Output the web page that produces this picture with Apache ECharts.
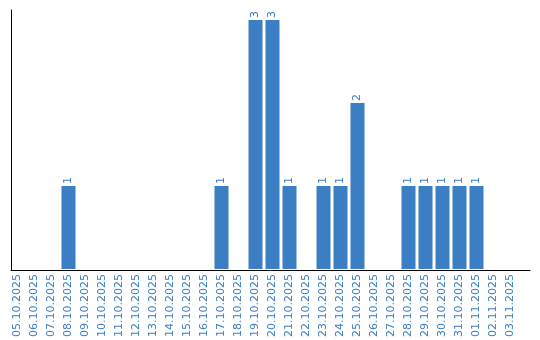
<!DOCTYPE html>
<html><head><meta charset="utf-8">
<script src="https://cdn.jsdelivr.net/npm/echarts@6/dist/echarts.min.js"></script>
<style>html,body{margin:0;padding:0;background:#fff}#c{width:540px;height:340px}</style>
</head><body><div id="c"></div>
<script>
const categories = ["05.10.2025","06.10.2025","07.10.2025","08.10.2025","09.10.2025","10.10.2025","11.10.2025","12.10.2025","13.10.2025","14.10.2025","15.10.2025","16.10.2025","17.10.2025","18.10.2025","19.10.2025","20.10.2025","21.10.2025","22.10.2025","23.10.2025","24.10.2025","25.10.2025","26.10.2025","27.10.2025","28.10.2025","29.10.2025","30.10.2025","31.10.2025","01.11.2025","02.11.2025","03.11.2025"];
const values = [0,0,0,1,0,0,0,0,0,0,0,0,1,0,3,3,1,0,1,1,2,0,0,1,1,1,1,1,0,0];
const blue = '#3b7ec3';
const chart = echarts.init(document.getElementById('c'), null, {renderer:'canvas'});
chart.setOption({
  animation:false,
  grid:[{left:9, width:510, top:10, bottom:70},{left:11, right:10, top:10, bottom:70}],
  xAxis:[{type:'category', data:categories, boundaryGap:true, gridIndex:0,
    axisLine:{show:false}, axisTick:{show:false},
    axisLabel:{rotate:90, interval:0, color:blue, fontFamily:'DejaVu Sans', fontSize:11, margin:5}},
    {type:'value', gridIndex:1, min:0, max:1, axisLine:{show:true, lineStyle:{color:'#000', width:1}},
     axisLabel:{show:false}, axisTick:{show:false}, splitLine:{show:false}}],
  yAxis:[{type:'value', gridIndex:0, min:0, max:3.12, axisLine:{show:false},
    axisLabel:{show:false}, axisTick:{show:false}, splitLine:{show:false}},
    {type:'value', gridIndex:1, min:0, max:1, axisLine:{show:true, lineStyle:{color:'#000', width:1}},
     axisLabel:{show:false}, axisTick:{show:false}, splitLine:{show:false}}],
  series:[{type:'bar', xAxisIndex:0, yAxisIndex:0, data:values.map(v=>v===0?null:v), barWidth:14, itemStyle:{color:blue},
    label:{show:true, position:'top', rotate:90, align:'left', verticalAlign:'middle', distance:2,
      color:blue, fontFamily:'DejaVu Sans', fontSize:11}}]
});
</script></body></html>
